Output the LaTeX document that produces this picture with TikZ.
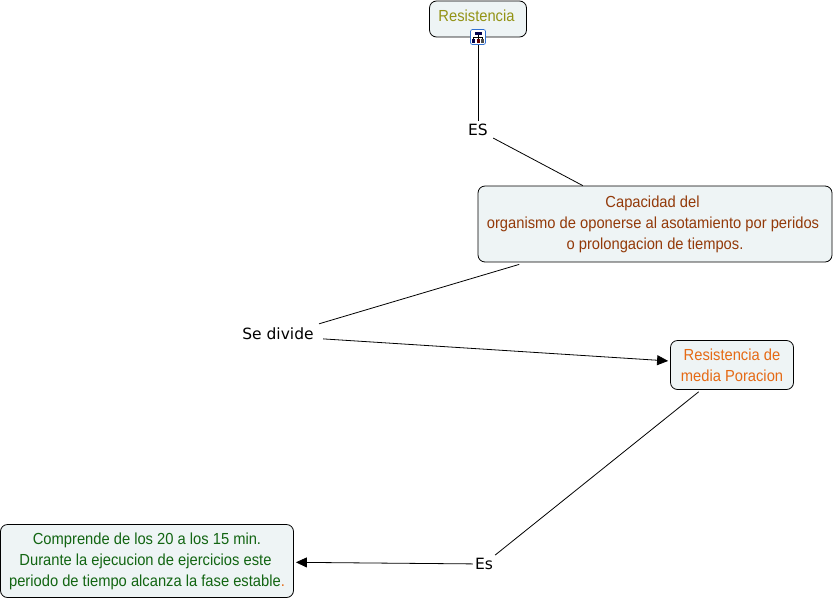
\documentclass[tikz,border=0pt]{standalone}
\usepackage{fontspec}
\setmainfont[FakeStretch=0.92]{Liberation Sans}
\newfontfamily\labelfont{DejaVu Sans}
\definecolor{boxfill}{HTML}{EEF4F5}
\definecolor{olivetxt}{HTML}{939315}
\definecolor{browntxt}{HTML}{933A0A}
\definecolor{orangetxt}{HTML}{E56A15}
\definecolor{greentxt}{HTML}{126512}
\definecolor{iconblue}{HTML}{3070D0}
\usetikzlibrary{arrows.meta}
\tikzset{
  concept/.style={draw=black,line width=0.8pt,fill=boxfill,rounded corners=7pt,align=center,inner sep=0pt,
    font=\fontsize{16}{21}\selectfont},
  linklabel/.style={inner sep=0pt,font=\labelfont\fontsize{15.5}{18}\selectfont},
  link/.style={draw=black,line width=0.8pt},
  arrowlink/.style={link,-{Triangle[length=11pt,width=10pt]},shorten >=2pt},
}
\begin{document}
\begin{tikzpicture}[x=1pt,y=-1pt]
\useasboundingbox (0,0) rectangle (834,600);
\node[concept,minimum width=97pt,minimum height=36pt,text=olivetxt] (res) at (478,19) {\raisebox{6pt}{Resistencia\hspace{3pt}}};
\node[draw=iconblue,line width=0.7pt,fill=white,rounded corners=2pt,minimum size=15pt,inner sep=0pt] (icon) at (478,37) {};
\node[concept,minimum width=354pt,minimum height=76pt,text=browntxt] (cap) at (655,224) {\mbox{Capacidad del\hspace{5pt}}\\\mbox{organismo de oponerse al asotamiento por peridos\hspace{4pt}}\\o prolongacion de tiempos.};
\node[concept,minimum width=123pt,minimum height=49pt,text=orangetxt] (media) at (732,365) {Resistencia de\\media Poracion};
\node[concept,minimum width=293pt,minimum height=73pt,text=greentxt] (comp) at (147,561) {Comprende de los 20 a los 15 min.\\\mbox{Durante la ejecucion de ejercicios este\hspace{3pt}}\\periodo de tiempo alcanza la fase estable\textcolor{orangetxt}{.}};
\node[linklabel,minimum width=30pt,minimum height=18pt] (es1) at (478,130) {ES};
\node[linklabel,minimum width=90pt,minimum height=24pt] (div) at (278,336) {\raisebox{4pt}{Se divide}};
\node[linklabel,minimum width=22pt,minimum height=20pt] (es2) at (484,564) {Es};
\fill[black!70!blue] (474.5,31.5) rectangle (481.5,34.5);
\draw[black,line width=0.6pt] (478,34.5) -- (478,37) (473.5,37) -- (482.5,37) (473.5,37) -- (473.5,39) (482.5,37) -- (482.5,39) (478,37) -- (478,39);
\fill[black!70!blue] (472,39) rectangle (475,43);
\fill[black!60!red] (476.5,39) rectangle (479.5,43);
\fill[black!70] (481,39) rectangle (484,43);
\draw[link] (icon) -- (es1);
\draw[link] (es1) -- (cap.152.8);
\draw[link,shorten <=7pt] (cap) -- (div);
\draw[arrowlink] (div) -- (media);
\draw[link,shorten <=3pt] (media) -- (es2);
\draw[arrowlink] (es2) -- (comp);
\end{tikzpicture}
\end{document}
